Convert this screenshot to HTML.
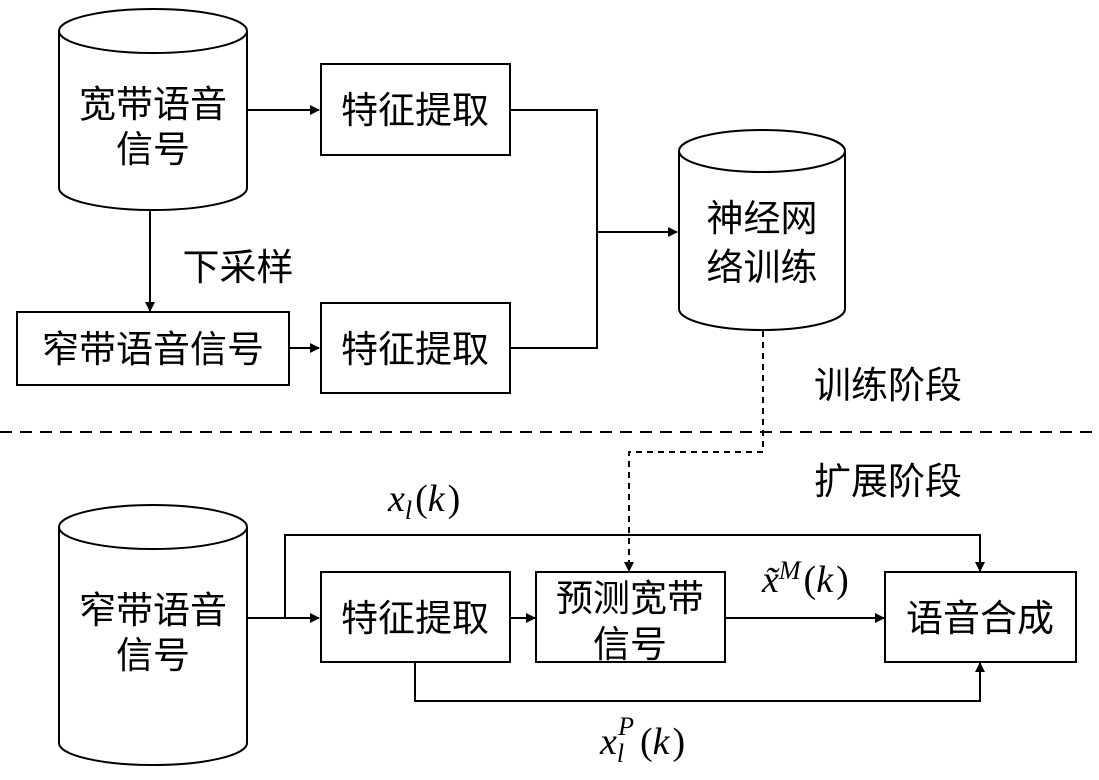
<!DOCTYPE html>
<html><head><meta charset="utf-8"><style>body{margin:0;background:#fff}svg{display:block}</style></head>
<body>
<svg width="1099" height="780" viewBox="0 0 1099 780" xmlns="http://www.w3.org/2000/svg">
<defs><marker id="a" markerWidth="10" markerHeight="10" refX="9" refY="5" orient="auto" markerUnits="userSpaceOnUse"><path d="M0,0 L10,5 L0,10 z" fill="#000"/></marker></defs>
<g fill="none" stroke="#000" stroke-width="2">
<path d="M59,31 V188 A94,22 0 0 0 247,188 V31"/><ellipse cx="153" cy="31" rx="94" ry="22"/>
<path d="M679,151 V309 A83,21 0 0 0 845,309 V151"/><ellipse cx="762" cy="151" rx="83" ry="21"/>
<path d="M59,527 V743 A94,22 0 0 0 247,743 V527"/><ellipse cx="153" cy="527" rx="94" ry="22"/>
<rect x="321" y="64" width="189" height="91"/>
<rect x="321" y="303" width="189" height="90"/>
<rect x="17" y="312" width="272" height="73"/>
<rect x="321" y="572" width="189" height="90"/>
<rect x="536" y="572" width="189" height="90"/>
<rect x="885" y="572" width="191" height="90"/>
<path d="M247,110 H319" marker-end="url(#a)"/>
<path d="M510,110 H597 V348 H510"/>
<path d="M597,232 H677" marker-end="url(#a)"/>
<path d="M150,210 V311" marker-end="url(#a)"/>
<path d="M289,348 H319" marker-end="url(#a)"/>
<path d="M0,432 H1099" stroke-dasharray="12,8"/>
<path d="M763,331 V452 H629 V571" stroke-dasharray="6,5" marker-end="url(#a)"/>
<path d="M247,618 H319" marker-end="url(#a)"/>
<path d="M285,618 V535 H980 V571" marker-end="url(#a)"/>
<path d="M510,618 H535" marker-end="url(#a)"/>
<path d="M725,618 H884" marker-end="url(#a)"/>
<path d="M415,662 V701 H980 V663" marker-end="url(#a)"/>
</g>
<g font-family="Liberation Sans, Noto Sans CJK SC, sans-serif" font-size="37" text-anchor="middle" fill="#000">
<text x="153" y="117">宽带语音</text><text x="153" y="162">信号</text>
<text x="415" y="123">特征提取</text>
<text x="415" y="362">特征提取</text>
<text x="153" y="362">窄带语音信号</text>
<text x="762" y="231">神经网</text><text x="762" y="280">络训练</text>
<text x="238" y="280">下采样</text>
<text x="888" y="398">训练阶段</text>
<text x="888" y="494">扩展阶段</text>
<text x="153" y="623">窄带语音</text><text x="153" y="668">信号</text>
<text x="415" y="631">特征提取</text>
<text x="630" y="611">预测宽带</text><text x="630" y="657">信号</text>
<text x="980" y="631">语音合成</text>
</g>
<g font-family="Liberation Serif, serif" font-size="38" font-style="italic" fill="#000">
<text x="388" y="511">x<tspan font-size="26" dy="8">l</tspan><tspan dy="-8" dx="3" font-style="normal">(</tspan>k<tspan dx="3" font-style="normal">)</tspan></text>
<text x="762" y="592">x̃<tspan font-size="26" dy="-13">M</tspan><tspan dy="13" dx="3" font-style="normal">(</tspan>k<tspan dx="3" font-style="normal">)</tspan></text>
<text x="600" y="754">x<tspan font-size="26" dy="8">l</tspan><tspan font-size="26" dx="-6" dy="-27">P</tspan><tspan dy="19" dx="6" font-style="normal">(</tspan>k<tspan dx="3" font-style="normal">)</tspan></text>
</g>
</svg>
</body></html>
